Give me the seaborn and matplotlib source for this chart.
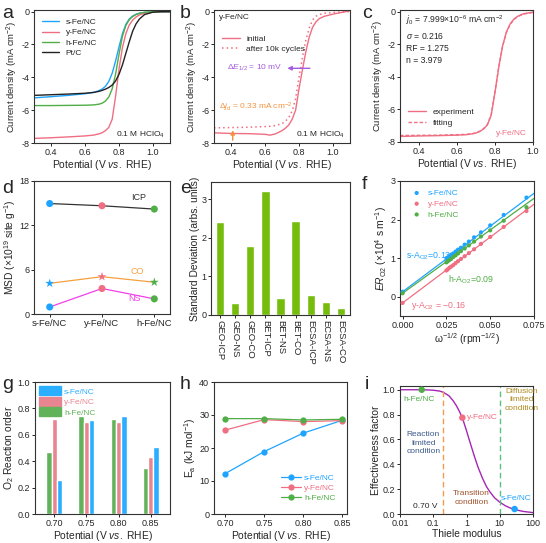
import numpy as np
import pandas as pd
import matplotlib
matplotlib.use("Agg")
import matplotlib.pyplot as plt
import seaborn as sns
from matplotlib.patches import Patch

sns.set_theme(style="ticks")
plt.rcParams['font.family'] = ['Liberation Sans', 'DejaVu Sans']
plt.rcParams['mathtext.fontset'] = 'custom'
plt.rcParams['mathtext.rm'] = 'Liberation Sans'
plt.rcParams['mathtext.it'] = 'Liberation Sans:italic'
plt.rcParams['axes.unicode_minus'] = False
plt.rcParams['axes.linewidth'] = 0.8
plt.rcParams['axes.edgecolor'] = '#333333'
plt.rcParams['xtick.labelsize'] = 6.5
plt.rcParams['ytick.labelsize'] = 6.5
plt.rcParams['xtick.major.size'] = 2.2
plt.rcParams['ytick.major.size'] = 2.2
plt.rcParams['xtick.major.pad'] = 1.2
plt.rcParams['ytick.major.pad'] = 1.2
plt.rcParams['xtick.major.width'] = 0.7
plt.rcParams['ytick.major.width'] = 0.7
plt.rcParams['axes.labelsize'] = 7.4
plt.rcParams['axes.labelpad'] = 1

C_S = '#1EA4FF'
C_Y = '#F06E82'
C_H = '#4FAE45'
C_PT = '#222222'

####################################################################################
## DATA
####################################################################################

# a: LSV curves
a_pot = [0.30, 0.40, 0.50, 0.60, 0.65, 0.68, 0.70, 0.72, 0.74, 0.76, 0.78,
         0.80, 0.82, 0.84, 0.86, 0.88, 0.90, 0.92, 0.95, 1.00, 1.05, 1.10]
a_s = [-5.25, -5.18, -5.10, -5.00, -4.92, -4.82, -4.72, -4.55, -4.25, -3.75, -3.00,
       -2.15, -1.35, -0.78, -0.45, -0.27, -0.16, -0.10, -0.05, -0.02, -0.01, 0.0]
a_y = [-7.72, -7.68, -7.63, -7.57, -7.52, -7.45, -7.38, -7.25, -7.05, -6.55, -5.15,
       -3.50, -2.20, -1.35, -0.82, -0.52, -0.33, -0.20, -0.10, -0.03, -0.01, 0.0]
a_h = [-5.72, -5.72, -5.71, -5.70, -5.68, -5.64, -5.58, -5.45, -5.20, -4.70, -3.80,
       -2.60, -1.50, -0.85, -0.50, -0.30, -0.18, -0.10, -0.04, -0.01, 0.0, 0.0]
a_pt = [-5.10, -5.06, -5.02, -4.97, -4.92, -4.86, -4.80, -4.72, -4.62, -4.47, -4.22,
        -3.82, -3.25, -2.55, -1.85, -1.20, -0.75, -0.45, -0.18, -0.03, 0.0, 0.0]

# b: stability
b_pot = [0.30, 0.40, 0.50, 0.60, 0.63, 0.66, 0.70, 0.72, 0.74, 0.76, 0.78,
         0.80, 0.82, 0.84, 0.86, 0.88, 0.90, 0.92, 0.95, 1.00, 1.05, 1.10]
b_init = [-7.38, -7.42, -7.43, -7.47, -7.52, -7.45, -7.25, -7.10, -6.90, -6.55, -6.00,
          -4.70, -3.55, -2.45, -1.55, -0.95, -0.62, -0.42, -0.28, -0.15, -0.05, 0.05]
b_after = [-7.08, -7.06, -7.04, -7.00, -6.98, -6.94, -6.82, -6.68, -6.45, -6.05, -5.30,
           -4.00, -2.80, -1.75, -1.00, -0.50, -0.28, -0.18, -0.10, -0.05, -0.02, 0.0]

# c: fitting
c_pot = [0.30, 0.40, 0.50, 0.60, 0.65, 0.68, 0.70, 0.72, 0.74, 0.76, 0.78,
         0.80, 0.82, 0.84, 0.86, 0.88, 0.90, 0.92, 0.95, 1.00]
c_exp = [-7.66, -7.63, -7.61, -7.58, -7.55, -7.50, -7.45, -7.35, -7.20, -6.95, -6.35,
         -4.95, -3.40, -2.10, -1.25, -0.75, -0.45, -0.28, -0.13, -0.03]
c_fit = [-7.60, -7.59, -7.58, -7.55, -7.53, -7.49, -7.44, -7.34, -7.18, -6.92, -6.32,
         -4.92, -3.38, -2.12, -1.28, -0.78, -0.48, -0.30, -0.15, -0.05]

# d: MSD
catalysts = ['s-Fe/NC', 'y-Fe/NC', 'h-Fe/NC']
msd_icp = [14.95, 14.65, 14.2]
msd_co = [4.15, 5.05, 4.3]
msd_ns = [0.95, 3.45, 2.05]

# e: standard deviation
sd_labels = ['GEO-ICP', 'GEO-NS', 'GEO-CO', 'BET-ICP', 'BET-NS', 'BET-CO',
             'ECSA-ICP', 'ECSA-NS', 'ECSA-CO']
sd_values = [2.42, 0.30, 1.80, 3.22, 0.43, 2.44, 0.51, 0.33, 0.18]

# f: ER_O2 vs omega^-1/2
f_w = [0.0, 0.0250, 0.0258, 0.0267, 0.0277, 0.0289, 0.0302, 0.0316, 0.0333,
       0.0354, 0.0378, 0.0408, 0.0447, 0.0500, 0.0577, 0.0707]
f_s = [0.13, 0.99, 1.02, 1.05, 1.09, 1.12, 1.17, 1.22, 1.27, 1.35, 1.43, 1.54,
       1.67, 1.85, 2.12, 2.57]
f_y = [-0.16, 0.68, 0.71, 0.75, 0.78, 0.82, 0.87, 0.92, 0.98, 1.05, 1.13, 1.23,
       1.37, 1.55, 1.81, 2.22]
f_h = [0.09, 0.89, 0.92, 0.95, 0.98, 1.03, 1.07, 1.12, 1.18, 1.25, 1.33, 1.43,
       1.56, 1.72, 1.97, 2.32]
f_intercept = [0.13, -0.16, 0.09]
f_slope = [34.0, 34.1, 32.8]

# g: O2 reaction order
g_pot = ['0.70', '0.75', '0.80', '0.85']
g_s = [0.26, 0.71, 0.74, 0.51]
g_y = [0.72, 0.70, 0.70, 0.43]
g_h = [0.47, 0.74, 0.72, 0.35]

# h: activation energy
h_pot = [0.70, 0.75, 0.80, 0.85]
h_s = [12.2, 18.9, 24.5, 28.4]
h_y = [25.4, 28.6, 28.0, 28.3]
h_h = [28.9, 28.9, 28.5, 28.7]

# i: effectiveness factor vs Thiele modulus
i_phi = [0.01, 0.03, 0.06, 0.1, 0.15, 0.2, 0.3, 0.4, 0.5, 0.6, 0.75, 1.0, 1.3,
         1.7, 2.2, 3.0, 4.0, 5.0, 7.0, 10.0, 15.0, 20.0, 30.0, 50.0, 100.0]
i_eta = [1.0, 1.0, 0.999, 0.996, 0.99, 0.98, 0.95, 0.91, 0.87, 0.83, 0.775, 0.67,
         0.57, 0.47, 0.38, 0.29, 0.22, 0.18, 0.13, 0.095, 0.065, 0.05, 0.034,
         0.021, 0.011]
i_points_phi = [0.045, 0.75, 28.0]
i_points_eta = [1.0, 0.775, 0.04]

####################################################################################
## FIGURE
####################################################################################

W, H = 546, 543
fig = plt.figure(figsize=(W / 100, H / 100), dpi=100)


def add(l, t, r, b):
    return fig.add_axes([l / W, 1 - b / H, (r - l) / W, (b - t) / H])


def letter(x, y, s):
    fig.text(x / W, 1 - y / H, s, fontsize=14, va='baseline', ha='left')


pot_label = 'Potential (V $\\it{vs.}$ RHE)'
j_label = 'Current density (mA cm$^{-2}$)'

# ---------------- a
ax = add(34, 10, 170, 143)
for pot, vals, col, lab in [(a_pot, a_s, C_S, 's-Fe/NC'), (a_pot, a_y, C_Y, 'y-Fe/NC'),
                            (a_pot, a_h, C_H, 'h-Fe/NC'), (a_pot, a_pt, C_PT, 'Pt/C')]:
    sns.lineplot(x=pot, y=vals, color=col, lw=1.0, label=lab, ax=ax)
ax.set_xlim(0.3, 1.1)
ax.set_ylim(-8, 0.1)
ax.set_xticks([0.4, 0.6, 0.8, 1.0])
ax.set_yticks([-8, -6, -4, -2, 0])
ax.set_xlabel(pot_label)
ax.set_ylabel(j_label, fontsize=6.8)
ax.legend(loc='upper left', frameon=False, fontsize=6, handlelength=2.0,
          labelspacing=0.3, borderaxespad=0.6)
ax.text(1.07, -7.6, '0.1 M HClO$_4$', fontsize=6, ha='right')
letter(2, 18, 'a')

# ---------------- b
ax = add(214, 10, 350, 143)
sns.lineplot(x=b_pot, y=b_init, color=C_Y, lw=1.0, label='initial', ax=ax)
sns.lineplot(x=b_pot, y=b_after, color=C_Y, lw=1.1, ls=(0, (1, 2)),
             label='after 10k cycles', ax=ax)
ax.set_xlim(0.3, 1.1)
ax.set_ylim(-8, 0.1)
ax.set_xticks([0.4, 0.6, 0.8, 1.0])
ax.set_yticks([-8, -6, -4, -2, 0])
ax.set_xlabel(pot_label)
ax.set_ylabel(j_label, fontsize=6.8)
ax.legend(loc='upper left', frameon=False, fontsize=6, handlelength=2.2,
          labelspacing=0.3, bbox_to_anchor=(0.0, 0.87))
ax.text(0.33, -0.45, 'y-Fe/NC', fontsize=6)
ax.annotate('', xy=(0.715, -3.45), xytext=(0.88, -3.45),
            arrowprops=dict(arrowstyle='-|>', color='#A35BE0', lw=1.0,
                            mutation_scale=6))
ax.text(0.70, -3.45, '$\\Delta E_{1/2}$ = 10 mV', color='#A35BE0', fontsize=6,
        ha='right', va='center')
ax.annotate('', xy=(0.41, -7.05), xytext=(0.41, -8.0),
            arrowprops=dict(arrowstyle='-|>', color='#F5923E', lw=1.0,
                            mutation_scale=6))
ax.text(0.33, -5.85, '$\\Delta j_{\\rm d}$ = 0.33 mA cm$^{-2}$', color='#F5923E',
        fontsize=6, va='center')
ax.text(1.07, -7.6, '0.1 M HClO$_4$', fontsize=6, ha='right')
letter(180, 18, 'b')

# ---------------- c
ax = add(400, 10, 533, 142)
sns.lineplot(x=c_pot, y=c_exp, color=C_Y, lw=1.0, label='experiment', ax=ax)
sns.lineplot(x=c_pot, y=c_fit, color=C_Y, lw=1.0, ls=(0, (2.5, 1.5)),
             label='fitting', ax=ax)
ax.set_xlim(0.3, 1.0)
ax.set_ylim(-8, 0.1)
ax.set_xticks([0.4, 0.6, 0.8, 1.0])
ax.set_yticks([-8, -6, -4, -2, 0])
ax.set_xlabel(pot_label)
ax.set_ylabel(j_label, fontsize=6.8)
ax.legend(loc='lower left', frameon=False, fontsize=6, handlelength=2.2,
          labelspacing=0.3, bbox_to_anchor=(0.0, 0.06))
ax.text(0.97, -7.55, 'y-Fe/NC', color=C_Y, fontsize=6, ha='right')
ax.text(0.33, -0.12,
        '$j_0$ = 7.999×10$^{-6}$ mA cm$^{-2}$\n$\\sigma$ = 0.216\nRF = 1.275\nn = 3.979',
        fontsize=6.2, va='top', linespacing=1.45)
letter(362, 18, 'c')

# ---------------- d
ax = add(34, 181, 170, 314)
pal = [C_S, C_Y, C_H]
xs = [0, 1, 2]
sns.lineplot(x=xs, y=msd_icp, color='#333333', lw=0.9, ax=ax)
sns.lineplot(x=xs, y=msd_co, color='#F5A040', lw=0.9, ax=ax)
sns.lineplot(x=xs, y=msd_ns, color='#F040E8', lw=0.9, ax=ax)
for vals, mk, sz in [(msd_icp, 'o', 26), (msd_co, '*', 45), (msd_ns, 'o', 26)]:
    sns.scatterplot(x=xs, y=vals, hue=catalysts, palette=pal, marker=mk, s=sz,
                    edgecolor='none', legend=False, ax=ax, zorder=3)
ax.text(1.55, 15.4, 'ICP', color='#333333', fontsize=6.5)
ax.text(1.55, 5.4, 'CO', color='#F5A040', fontsize=6.5)
ax.text(1.5, 1.8, 'NS', color='#F040E8', fontsize=6.5)
ax.set_xlim(-0.3, 2.3)
ax.set_ylim(0, 18)
ax.set_xticks(xs)
ax.set_xticklabels(catalysts, fontsize=6.8)
ax.set_yticks([0, 6, 12, 18])
ax.set_ylabel('MSD (×10$^{19}$ site g$^{-1}$)')
letter(2, 193, 'd')

# ---------------- e
ax = add(211, 182, 350, 315)
sns.barplot(x=sd_labels, y=sd_values, color='#76BC0C', width=0.55, saturation=1,
            ax=ax)
ax.set_ylim(0, 3.45)
ax.set_yticks([0, 1, 2, 3])
ax.set_xlim(-0.6, 8.6)
ax.tick_params(axis='x', labelrotation=270, labelsize=6.8)
ax.set_ylabel('Standard Deviation (arbs. units)')
letter(180, 193, 'e')

# ---------------- f
ax = add(400, 181, 534, 316)
for vals, col, lab in [(f_s, C_S, 's-Fe/NC'), (f_y, C_Y, 'y-Fe/NC'), (f_h, C_H, 'h-Fe/NC')]:
    sns.scatterplot(x=f_w, y=vals, color=col, s=9, edgecolor='none', label=lab,
                    ax=ax, zorder=3)
for b0, m, col in zip(f_intercept, f_slope, [C_S, C_Y, C_H]):
    ax.axline((0, b0), slope=m, color=col, lw=0.9)
ax.set_xlim(-0.0015, 0.075)
ax.set_ylim(-0.5, 3)
ax.set_xticks([0.0, 0.025, 0.05, 0.075])
ax.set_xticklabels(['0.000', '0.025', '0.050', '0.075'])
ax.set_yticks([0, 1, 2, 3])
ax.set_xlabel('ω$^{-1/2}$ (rpm$^{-1/2}$)')
ax.set_ylabel('$ER_{\\rm O2}$ (×10$^4$ s m$^{-1}$)')
leg = ax.legend(loc='upper left', frameon=False, fontsize=6, handletextpad=0.3,
                labelspacing=0.35, markerscale=1.0, borderaxespad=0.6)
for t, col in zip(leg.get_texts(), [C_S, C_Y, C_H]):
    t.set_color(col)
ax.text(0.002, 1.0, 's-A$_{\\rm O2}$=0.13', color=C_S, fontsize=6.3)
ax.text(0.026, 0.38, 'h-A$_{\\rm O2}$=0.09', color=C_H, fontsize=6.3)
ax.text(0.005, -0.28, 'y-A$_{\\rm O2}$ = −0.16', color=C_Y, fontsize=6.3)
letter(362, 189, 'f')

# ---------------- g
ax = add(35, 382, 170, 514)
g_df = pd.DataFrame({
    'pot': g_pot * 3,
    'order': g_h + g_y + g_s,
    'cat': ['h-Fe/NC'] * 4 + ['y-Fe/NC'] * 4 + ['s-Fe/NC'] * 4,
})
g_pal = {'s-Fe/NC': '#2AAEFF', 'y-Fe/NC': '#E98590', 'h-Fe/NC': '#62B25A'}
sns.barplot(data=g_df, x='pot', y='order', hue='cat', palette=g_pal, width=0.5,
            saturation=1, legend=False, ax=ax)
ax.set_xlim(-0.6, 3.6)
ax.set_ylim(0, 1.0)
ax.set_yticks([0, 0.2, 0.4, 0.6, 0.8, 1.0])
ax.set_xlabel(pot_label)
ax.set_ylabel('O$_2$ Reaction order')
handles = [Patch(color=g_pal[c]) for c in ['s-Fe/NC', 'y-Fe/NC', 'h-Fe/NC']]
leg = ax.legend(handles, ['s-Fe/NC', 'y-Fe/NC', 'h-Fe/NC'], loc='upper left',
                frameon=False, fontsize=6, handlelength=2.6, handleheight=1.3,
                labelspacing=0.15, borderaxespad=0.1, handletextpad=0.4)
for t, col in zip(leg.get_texts(), [g_pal['s-Fe/NC'], g_pal['y-Fe/NC'], g_pal['h-Fe/NC']]):
    t.set_color(col)
letter(2, 389, 'g')

# ---------------- h
ax = add(214, 382, 347, 514)
for vals, col, lab in [(h_s, C_S, 's-Fe/NC'), (h_y, C_Y, 'y-Fe/NC'), (h_h, C_H, 'h-Fe/NC')]:
    sns.lineplot(x=h_pot, y=vals, color=col, lw=0.9, marker='o', markersize=4.5,
                 markeredgewidth=0, label=lab, ax=ax)
ax.set_xlim(0.686, 0.856)
ax.set_ylim(0, 40)
ax.set_xticks(h_pot)
ax.set_xticklabels(['0.70', '0.75', '0.80', '0.85'])
ax.set_yticks([0, 10, 20, 30, 40])
ax.set_xlabel(pot_label)
ax.set_ylabel('E$_{\\rm a}$ (kJ mol$^{-1}$)')
leg = ax.legend(loc='lower right', frameon=False, fontsize=6, handlelength=2.4,
                labelspacing=0.3, borderaxespad=1.0, handletextpad=0.3)
for t, col in zip(leg.get_texts(), [C_S, C_Y, C_H]):
    t.set_color(col)
letter(180, 389, 'h')

# ---------------- i
ax = add(400, 386, 533, 514)
sns.lineplot(x=i_phi, y=i_eta, color='#A526B5', lw=1.0, ax=ax)
sns.scatterplot(x=i_points_phi, y=i_points_eta, hue=['h', 'y', 's'],
                palette=[C_H, C_Y, C_S], s=22, edgecolor='none', legend=False,
                ax=ax, zorder=3)
ax.axvline(0.2, color='#F59A50', lw=1.0, ls=(0, (4, 2.5)))
ax.axvline(10, color='#5CC080', lw=1.0, ls=(0, (4, 2.5)))
ax.set_xscale('log')
ax.set_xlim(0.01, 100)
ax.set_ylim(0, 1.03)
ax.set_xticks([0.01, 0.1, 1, 10, 100])
ax.set_xticklabels(['0.01', '0.1', '1', '10', '100'])
ax.set_yticks([0, 0.2, 0.4, 0.6, 0.8, 1.0])
ax.minorticks_off()
ax.set_xlabel('Thiele modulus')
ax.set_ylabel('Effectiveness factor')
ax.text(0.013, 0.91, 'h-Fe/NC', color=C_H, fontsize=6)
ax.text(1.0, 0.765, 'y-Fe/NC', color=C_Y, fontsize=6)
ax.text(10.7, 0.11, 's-Fe/NC', color=C_S, fontsize=6)
ax.text(0.05, 0.57, 'Reaction\nlimited\ncondition', color='#3D5A8A', fontsize=6,
        ha='center', va='center', linespacing=1.3)
ax.text(1.4, 0.13, 'Transition\ncondition', color='#A0522D', fontsize=6,
        ha='center', va='center', linespacing=1.3)
ax.text(45, 0.92, 'Diffusion\nlimited\ncondition', color='#B08A20', fontsize=6,
        ha='center', va='center', linespacing=1.3)
ax.text(0.025, 0.05, '0.70 V', fontsize=6)
letter(365, 389, 'i')

fig.savefig('out.png', dpi=100)
